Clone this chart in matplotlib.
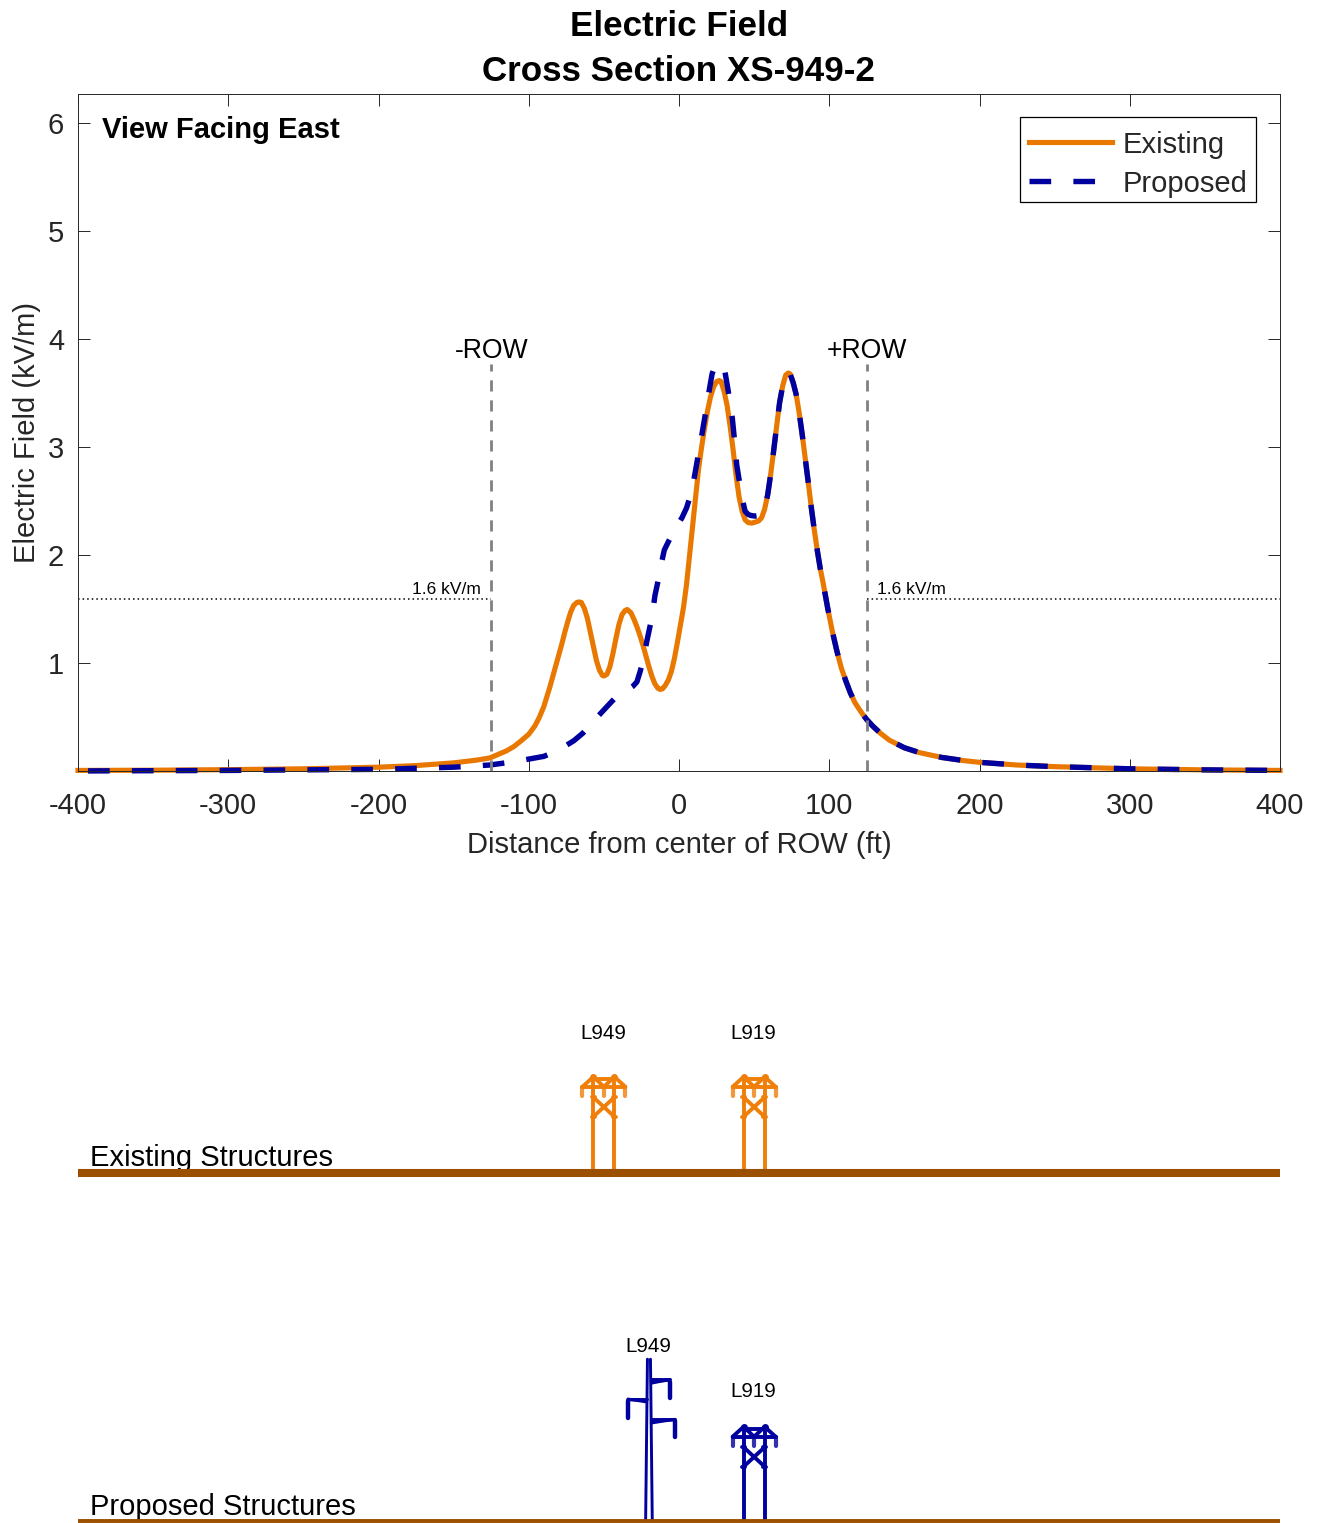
import matplotlib
matplotlib.use('Agg')
import matplotlib.pyplot as plt
from matplotlib.lines import Line2D

plt.rcParams['font.family'] = ['Liberation Sans', 'DejaVu Sans']
plt.rcParams['axes.unicode_minus'] = False

# Curvas
x_existing_left = [-400, -350, -300, -250, -200, -175, -150, -135, -126, -120, -115, -110, -105, -100, -96, -93, -90, -88,
                   -86, -84, -82, -80, -78, -76, -74, -72, -70, -68, -66.5, -65, -63, -61, -59, -57, -55, -53, -51, -50,
                   -48, -46, -44, -42, -40, -38, -36, -34.4, -32, -30, -28, -26, -24, -22, -20, -18, -16, -14, -12.6, -11,
                   -9, -7, -5, -3, -1, 1, 3, 5, 7, 9, 11, 13, 15, 17, 19, 21, 23, 25, 26.8, 28, 30, 32, 34, 36, 38, 40,
                   42, 44, 46, 48.4, 51, 53, 55]
y_existing_left = [0.01, 0.012, 0.017, 0.025, 0.04, 0.055, 0.08, 0.105, 0.125, 0.16, 0.19, 0.23, 0.285, 0.345, 0.42, 0.5, 0.6, 0.69,
                   0.78, 0.88, 0.98, 1.08, 1.18, 1.29, 1.39, 1.48, 1.54, 1.565, 1.57, 1.565, 1.51, 1.42, 1.29, 1.16, 1.03, 0.94, 0.89, 0.884,
                   0.9, 0.97, 1.09, 1.23, 1.36, 1.45, 1.49, 1.5, 1.47, 1.41, 1.34, 1.26, 1.17, 1.07, 0.97, 0.88, 0.81, 0.77, 0.76, 0.765,
                   0.8, 0.85, 0.93, 1.05, 1.2, 1.36, 1.52, 1.73, 2.0, 2.26, 2.55, 2.8, 3.0, 3.18, 3.34, 3.47, 3.56, 3.61, 3.62, 3.61, 3.52, 3.39, 3.2, 2.98, 2.74, 2.54,
                   2.41, 2.33, 2.305, 2.3, 2.31, 2.32, 2.35]
x_proposed_left = [-400, -300, -200, -150, -126, -110, -100, -90, -83, -77, -70, -64, -59, -54, -48, -42.6, -36, -30.6, -28, -26,
                   -24, -21.5, -18, -16, -14, -12.6, -9.8, -7, -4, -1.5, 2, 5, 7.5, 9.5, 11.8, 15, 17.3, 20, 22, 24, 26, 28,
                   30.6, 32.8, 35.5, 37, 38.4, 40.6, 42.5, 44, 46, 48, 50.6, 53, 55]
y_proposed_left = [0.005, 0.01, 0.02, 0.04, 0.06, 0.09, 0.115, 0.14, 0.18, 0.225, 0.285, 0.355, 0.43, 0.51, 0.6, 0.68, 0.74, 0.79, 0.83, 0.92,
                   1.02, 1.2, 1.43, 1.63, 1.76, 1.87, 2.05, 2.13, 2.21, 2.27, 2.35, 2.44, 2.55, 2.67, 2.85, 3.1, 3.29, 3.52, 3.68, 3.76, 3.78, 3.77,
                   3.7, 3.52, 3.27, 3.06, 2.84, 2.65, 2.5, 2.41, 2.38, 2.37, 2.365, 2.37, 2.38]
# Tramo derecho, comun a las dos curvas
x_shared = [57, 59, 61, 63, 65, 67, 69, 71, 72.7, 74, 76, 78, 80, 82, 84, 86, 88, 90, 92, 94, 96, 99, 102, 105, 108, 111, 114,
            117, 120, 122.5, 125, 129, 134, 140, 150, 160, 175, 190, 200, 225, 250, 300, 350, 400]
y_shared = [2.43, 2.56, 2.75, 2.97, 3.2, 3.42, 3.57, 3.67, 3.69, 3.68, 3.6, 3.49, 3.32, 3.12, 2.9, 2.68, 2.45, 2.24, 2.05, 1.88, 1.74, 1.51, 1.3, 1.12, 0.96, 0.84, 0.73,
            0.64, 0.575, 0.525, 0.48, 0.42, 0.355, 0.29, 0.22, 0.175, 0.13, 0.1, 0.085, 0.06, 0.045, 0.025, 0.015, 0.01]

x_ticks = [-400, -300, -200, -100, 0, 100, 200, 300, 400]
y_ticks = [1, 2, 3, 4, 5, 6]
row_edges = [-125, 125]
limit_value = 1.6

# Estructuras: tramos (x, y) en pies respecto a la base
lattice_members = [
    ([-7, -7], [0, 62]), ([7, 7], [0, 62]),
    ([-14.3, 14.3], [55.4, 55.4]), ([-7, 7], [60.5, 60.5]),
    ([-14.3, -7], [55.4, 62]), ([-7, 0], [62, 55.4]), ([7, 0], [62, 55.4]), ([7, 14.3], [62, 55.4]),
    ([-7, 7], [48.4, 35.5]), ([-7, 7], [35.5, 48.4]),
    ([-8, -6], [35.5, 35.5]), ([6, 8], [35.5, 35.5]), ([-8, -6], [48.4, 48.4]), ([6, 8], [48.4, 48.4]),
]
lattice_insulators = [([-14.3, -14.3], [55.4, 49.5]), ([0, 0], [55.4, 49.5]), ([14.3, 14.3], [55.4, 49.5])]
lattice_knobs = [(-7, 62), (7, 62)]

pole_members = [
    ([-2.2, -1.0], [0, 107]), ([2.2, 1.0], [0, 107]),
    ([1.5, 14], [93.5, 93.5]), ([1.5, 14], [91, 93.5]), ([1.5, 14], [92, 93]),
    ([-1.5, -14], [80.5, 80.5]), ([-1.5, -14], [78.5, 80.5]), ([-1.5, -14], [79.5, 80]),
    ([1.5, 17.3], [67, 67]), ([1.5, 17.3], [64.5, 67]), ([1.5, 17.3], [66, 66.5]),
]
pole_insulators = [([14, 14], [92, 81]), ([-14, -14], [79, 68]), ([17.3, 17.3], [66, 55])]

c_existing = '#E87800'
c_tower = '#F07F09'
c_proposed = '#00009E'
c_ground = '#9B4F00'
c_text = '#262626'

W, H = 1317, 1523
fig = plt.figure(figsize=(W / 100, H / 100), dpi=100)

# Panel superior
ax = fig.add_axes([78 / W, 1 - 771.5 / H, (1280 - 78) / W, (771.5 - 94) / H])
ax.plot(x_existing_left + x_shared, y_existing_left + y_shared, color=c_existing, lw=3.7, solid_joinstyle='round', clip_on=False)
ax.plot(x_proposed_left + x_shared, y_proposed_left + y_shared, color=c_proposed, lw=3.9,
        linestyle=(6.25, (4.0, 4.1)), dash_capstyle='butt', clip_on=False)

for r in row_edges:
    ax.plot([r, r], [0, 3.77], color='#808080', lw=2, linestyle=(0, (4, 3.2)))
ax.plot([-400, row_edges[0]], [limit_value, limit_value], color='k', lw=1.1, linestyle=(0, (1, 2)))
ax.plot([row_edges[1], 400], [limit_value, limit_value], color='k', lw=1.1, linestyle=(0, (1, 2)))

ax.text(-125, 3.77, '-ROW', fontsize=19.2, ha='center', va='bottom', color='k')
ax.text(125, 3.77, '+ROW', fontsize=19.2, ha='center', va='bottom', color='k')
ax.text(-132, 1.62, '1.6 kV/m', fontsize=12.5, ha='right', va='bottom', color='k')
ax.text(132, 1.62, '1.6 kV/m', fontsize=12.5, ha='left', va='bottom', color='k')
ax.text(-384, 5.94, 'View Facing East', fontsize=21, fontweight='bold', ha='left', va='center', color='k')

ax.set_xlim(-400, 400)
ax.set_ylim(0, 6.273)
ax.set_xticks(x_ticks)
ax.set_yticks(y_ticks)
ax.tick_params(direction='in', length=8.5, width=0.7, top=True, right=True, labelsize=21, colors=c_text)
ax.tick_params(axis='x', pad=15)
ax.tick_params(axis='y', pad=10)
ax.set_xlabel('Distance from center of ROW (ft)', fontsize=21, color=c_text, labelpad=8)
ax.set_ylabel('Electric Field (kV/m)', fontsize=21, color=c_text, labelpad=5)
for s in ax.spines.values():
    s.set_linewidth(0.7)
    s.set_color(c_text)

handles = [Line2D([], [], color=c_existing, lw=3.7),
           Line2D([], [], color=c_proposed, lw=3.9, linestyle=(0, (4.0, 4.1)))]
leg = ax.legend(handles, ['Existing', 'Proposed'], loc='upper right', bbox_to_anchor=(1178 / 1202, 1 - 23 / 677.5),
                borderaxespad=0, fontsize=21, frameon=True, fancybox=False, framealpha=1, edgecolor='k',
                handlelength=2.85, handletextpad=0.35, borderpad=0.3, labelspacing=0.4, labelcolor=c_text)
leg.get_frame().set_linewidth(0.9)
# Bajar un poco textos y muestras dentro del recuadro
for t in leg.get_texts():
    t.set_position((0, -5))
for h in leg.legend_handles:
    h.set_ydata([v - 3 for v in h.get_ydata()])

fig.text(679 / W, 1 - 26.5 / H, 'Electric Field', fontsize=25.2, fontweight='bold', ha='center', va='center', color='k')
fig.text(678.5 / W, 1 - 71.5 / H, 'Cross Section XS-949-2', fontsize=25.2, fontweight='bold', ha='center', va='center', color='k')

# Panel inferior, en pies con la misma escala
ft_px = 1202 / 800
ground_existing = 231.3
ground_proposed = 0
base_existing = ground_existing + 2.3
base_proposed = ground_proposed + 0.7
ax2 = fig.add_axes([78 / W, 0, (1280 - 78) / W, 643 / H])
ax2.set_xlim(-400, 400)
ax2.set_ylim(-2 / ft_px, 641 / ft_px)
ax2.axis('off')


def dibujar_celosia(x0, y0, color):
    for mx, my in lattice_members:
        ax2.plot([x0 + v for v in mx], [y0 + v for v in my], color=color, lw=2.8, solid_capstyle='round')
    for mx, my in lattice_insulators:
        ax2.plot([x0 + v for v in mx], [y0 + v for v in my], color=color, lw=3.0, alpha=0.8, solid_capstyle='round')
    for kx, ky in lattice_knobs:
        ax2.plot(x0 + kx, y0 + ky, 'o', color=color, ms=5, mew=0)


def dibujar_poste(x0, y0, color):
    for mx, my in pole_members:
        ax2.plot([x0 + v for v in mx], [y0 + v for v in my], color=color, lw=2.1, solid_capstyle='round')
    for mx, my in pole_insulators:
        ax2.plot([x0 + v for v in mx], [y0 + v for v in my], color=color, lw=3.2, solid_capstyle='round')


ax2.plot([-400, 400], [ground_existing, ground_existing], color=c_ground, lw=5.8, solid_capstyle='butt', zorder=5)
ax2.plot([-400, 400], [ground_proposed, ground_proposed], color=c_ground, lw=2.8, solid_capstyle='butt', clip_on=False, zorder=5)

dibujar_celosia(-50, base_existing, c_tower)
dibujar_celosia(50, base_existing, c_tower)
dibujar_poste(-20, base_proposed, c_proposed)
dibujar_celosia(50, base_proposed, c_proposed)

ax2.text(-50.7, ground_existing + 93, 'L949', fontsize=14.8, ha='center', va='center', color='k')
ax2.text(49.3, ground_existing + 93, 'L919', fontsize=14.8, ha='center', va='center', color='k')
ax2.text(-20.7, ground_proposed + 116, 'L949', fontsize=14.8, ha='center', va='center', color='k')
ax2.text(49.3, ground_proposed + 86, 'L919', fontsize=14.8, ha='center', va='center', color='k')
ax2.text(-392, ground_existing + 10, 'Existing Structures', fontsize=21, ha='left', va='center', color='k')
ax2.text(-392, ground_proposed + 9, 'Proposed Structures', fontsize=21, ha='left', va='center', color='k')

fig.savefig('out.png', dpi=100)
